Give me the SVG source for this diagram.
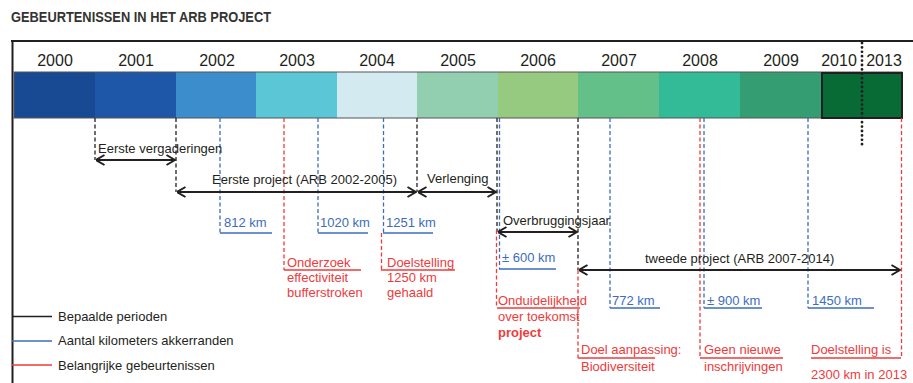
<svg xmlns="http://www.w3.org/2000/svg" width="913" height="383" viewBox="0 0 913 383">
<style>
.t{font-family:"Liberation Sans",Arial,sans-serif;font-size:13px;fill:#231f20}
.yr{font-family:"Liberation Sans",Arial,sans-serif;font-size:16px;fill:#231f20;text-anchor:middle}
.bt{fill:#3d6cc0}
.rt{fill:#ee3b3b}
.dk{stroke:#231f20;stroke-width:1.3;stroke-dasharray:4 2.5;fill:none}
.db{stroke:#3d6cc0;stroke-width:1.3;stroke-dasharray:4 2.5;fill:none}
.dr{stroke:#ee3b3b;stroke-width:1.3;stroke-dasharray:4 2.5;fill:none}
.ub{stroke:#3d6cc0;stroke-width:1.5}
.ur{stroke:#ee3b3b;stroke-width:1.5}
.ar{stroke:#231f20;stroke-width:2;fill:none;marker-start:url(#ah);marker-end:url(#ah)}
</style>
<defs>
<marker id="ah" viewBox="0 -6 10 12" refX="9.5" refY="0" markerWidth="10" markerHeight="12" orient="auto-start-reverse" markerUnits="userSpaceOnUse">
<path d="M1,-5 L9.5,0 L1,5" fill="none" stroke="#231f20" stroke-width="2"/>
</marker>
</defs>
<rect width="913" height="383" fill="#ffffff"/>
<text x="11" y="22" font-family="Liberation Sans, Arial, sans-serif" font-weight="bold" font-size="14" fill="#333333" textLength="260" lengthAdjust="spacingAndGlyphs">GEBEURTENISSEN IN HET ARB PROJECT</text>
<g id="frame">
<line x1="11" y1="41" x2="913" y2="41" stroke="#231f20" stroke-width="2"/>
<line x1="12.5" y1="40" x2="12.5" y2="383" stroke="#231f20" stroke-width="2"/>
</g>
<g id="timeline">
<rect x="14" y="72" width="81" height="46" fill="#184a94"/>
<rect x="95" y="72" width="81" height="46" fill="#1f57a8"/>
<rect x="176" y="72" width="80" height="46" fill="#3b8ecb"/>
<rect x="256" y="72" width="81" height="46" fill="#5bc6d6"/>
<rect x="337" y="72" width="80" height="46" fill="#d3eaf0"/>
<rect x="417" y="72" width="81" height="46" fill="#91cfb0"/>
<rect x="498" y="72" width="80" height="46" fill="#95ca80"/>
<rect x="578" y="72" width="81" height="46" fill="#63c089"/>
<rect x="659" y="72" width="81" height="46" fill="#33bb98"/>
<rect x="740" y="72" width="81" height="46" fill="#349e72"/>
<rect x="14" y="72" width="888" height="46" fill="none" stroke="#555555" stroke-width="1"/>
<rect x="822" y="73" width="80" height="45" fill="#086a35" stroke="#231f20" stroke-width="2"/>
<text class="yr" x="55" y="66">2000</text>
<text class="yr" x="136" y="66">2001</text>
<text class="yr" x="217" y="66">2002</text>
<text class="yr" x="297" y="66">2003</text>
<text class="yr" x="377" y="66">2004</text>
<text class="yr" x="458" y="66">2005</text>
<text class="yr" x="538" y="66">2006</text>
<text class="yr" x="619" y="66">2007</text>
<text class="yr" x="700" y="66">2008</text>
<text class="yr" x="781" y="66">2009</text>
<text class="yr" x="839" y="66">2010</text>
<text class="yr" x="884" y="66">2013</text>
<line x1="862" y1="43" x2="862" y2="146" stroke="#231f20" stroke-width="2.8" stroke-linecap="round" stroke-dasharray="0 4.4"/>
</g>
<g id="connectors">
<line class="dk" x1="95" y1="118" x2="95" y2="160"/>
<line class="dk" x1="176" y1="118" x2="176" y2="192"/>
<line class="dk" x1="417" y1="118" x2="417" y2="192"/>
<line class="dk" x1="497" y1="118" x2="497" y2="232"/>
<line class="dk" x1="578" y1="118" x2="578" y2="270"/>
<line class="db" x1="220" y1="118" x2="220" y2="233"/>
<line class="db" x1="318" y1="118" x2="318" y2="233"/>
<line class="db" x1="383.5" y1="118" x2="383.5" y2="233"/>
<line class="db" x1="499.5" y1="118" x2="499.5" y2="269"/>
<line class="db" x1="610" y1="118" x2="610" y2="308"/>
<line class="db" x1="704" y1="118" x2="704" y2="308"/>
<line class="db" x1="808" y1="118" x2="808" y2="308"/>
<line class="dr" x1="284" y1="118" x2="284" y2="270"/>
<line class="dr" x1="381.5" y1="233" x2="381.5" y2="270"/>
<line class="dr" x1="496.5" y1="230" x2="496.5" y2="308"/>
<line class="dr" x1="578" y1="270" x2="578" y2="358"/>
<line class="dr" x1="700" y1="118" x2="700" y2="358"/>
<line class="dr" x1="901.5" y1="118" x2="901.5" y2="358"/>
<line class="ub" x1="220" y1="233" x2="272" y2="233"/>
<line class="ub" x1="318" y1="233" x2="368" y2="233"/>
<line class="ub" x1="383" y1="233" x2="433" y2="233"/>
<line class="ub" x1="499" y1="269" x2="556" y2="269"/>
<line class="ub" x1="610" y1="308" x2="660" y2="308"/>
<line class="ub" x1="704" y1="308" x2="762" y2="308"/>
<line class="ub" x1="808" y1="308" x2="874" y2="308"/>
<line class="ur" x1="284" y1="270" x2="361" y2="270"/>
<line class="ur" x1="381" y1="270" x2="455" y2="270"/>
<line class="ur" x1="497" y1="308" x2="580" y2="308"/>
<line class="ur" x1="578" y1="358" x2="655" y2="358"/>
<line class="ur" x1="700" y1="358" x2="783" y2="358"/>
<line class="ur" x1="811" y1="358" x2="901" y2="358"/>
<line class="ar" x1="96" y1="160" x2="175" y2="160"/>
<line class="ar" x1="177" y1="192" x2="416" y2="192"/>
<line class="ar" x1="418" y1="192" x2="496" y2="192"/>
<line class="ar" x1="498" y1="232" x2="577" y2="232"/>
<line class="ar" x1="579" y1="270" x2="900" y2="270"/>
</g>
<g id="period-labels">
<text class="t" x="98" y="153">Eerste vergaderingen</text>
<text class="t" x="212" y="184">Eerste project (ARB 2002-2005)</text>
<text class="t" x="427" y="183">Verlenging</text>
<text class="t" x="503" y="225">Overbruggingsjaar</text>
<text class="t" x="645" y="263">tweede project (ARB 2007-2014)</text>
</g>
<g id="km-labels">
<text class="t bt" x="224" y="227">812 km</text>
<text class="t bt" x="320" y="227">1020 km</text>
<text class="t bt" x="386" y="227">1251 km</text>
<text class="t bt" x="502" y="262">± 600 km</text>
<text class="t bt" x="612" y="305">772 km</text>
<text class="t bt" x="707" y="305">± 900 km</text>
<text class="t bt" x="812" y="305">1450 km</text>
</g>
<g id="event-labels">
<text class="t rt" x="287" y="267">Onderzoek</text>
<text class="t rt" x="287" y="282">effectiviteit</text>
<text class="t rt" x="287" y="297">bufferstroken</text>
<text class="t rt" x="387" y="267">Doelstelling</text>
<text class="t rt" x="387" y="282">1250 km</text>
<text class="t rt" x="387" y="297">gehaald</text>
<text class="t rt" x="498" y="305">Onduidelijkheid</text>
<text class="t rt" x="498" y="321">over toekomst</text>
<text class="t rt" x="498" y="337" font-weight="bold" font-size="12">project</text>
<text class="t rt" x="581" y="354">Doel aanpassing:</text>
<text class="t rt" x="581" y="371">Biodiversiteit</text>
<text class="t rt" x="704" y="354">Geen nieuwe</text>
<text class="t rt" x="704" y="371">inschrijvingen</text>
<text class="t rt" x="811" y="354">Doelstelling is</text>
<text class="t rt" x="811" y="379">2300 km in 2013</text>
</g>
<g id="legend">
<line x1="12" y1="316.5" x2="52" y2="316.5" stroke="#231f20" stroke-width="1.3"/>
<line x1="12" y1="341" x2="52" y2="341" stroke="#3d6cc0" stroke-width="1.3"/>
<line x1="12" y1="365" x2="52" y2="365" stroke="#ee3b3b" stroke-width="1.5"/>
<text class="t" x="58" y="321">Bepaalde perioden</text>
<text class="t" x="58" y="345">Aantal kilometers akkerranden</text>
<text class="t" x="58" y="370">Belangrijke gebeurtenissen</text>
</g>
</svg>
